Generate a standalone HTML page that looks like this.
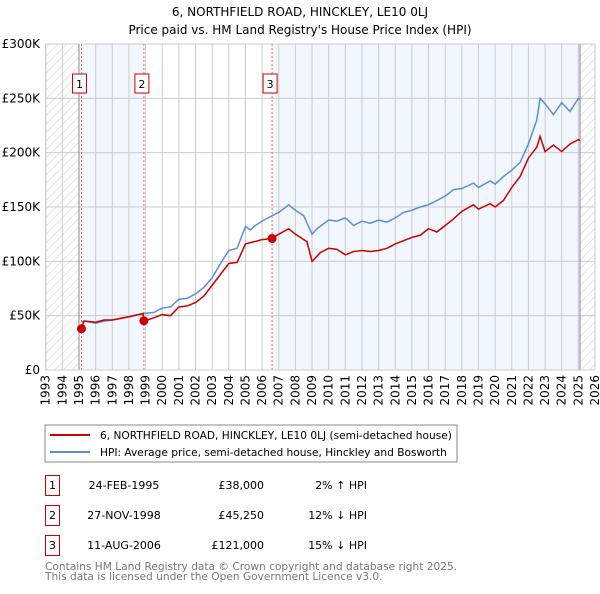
<!DOCTYPE html>
<html><head><meta charset="utf-8"><style>
body{margin:0;background:#fff;font-family:"DejaVu Sans","Liberation Sans",sans-serif;}
svg text{font-family:"DejaVu Sans","Liberation Sans",sans-serif;}
</style></head><body>
<svg id="c" width="600" height="590" xmlns="http://www.w3.org/2000/svg">
<defs><pattern id="hatch" width="6" height="6" patternUnits="userSpaceOnUse" patternTransform="rotate(45)"><line x1="0" y1="0" x2="0" y2="6" stroke="#ccc" stroke-width="1"/></pattern></defs>
<text x="300" y="16" text-anchor="middle" font-size="12">6, NORTHFIELD ROAD, HINCKLEY, LE10 0LJ</text>
<text x="300" y="34" text-anchor="middle" font-size="12">Price paid vs. HM Land Registry's House Price Index (HPI)</text>
<g id="plot"></g>
<rect x="45" y="425" width="412" height="37" fill="#fff" stroke="#888"/>
<line x1="50" y1="435" x2="90" y2="435" stroke="#cc0000" stroke-width="2"/>
<text x="100" y="439" font-size="10.6">6, NORTHFIELD ROAD, HINCKLEY, LE10 0LJ (semi-detached house)</text>
<line x1="50" y1="452" x2="90" y2="452" stroke="#5b8fd4" stroke-width="2"/>
<text x="100" y="456" font-size="10.6">HPI: Average price, semi-detached house, Hinckley and Bosworth</text>
<g id="table" font-size="11"></g>
<text x="45" y="570" font-size="10.6" fill="#777">Contains HM Land Registry data © Crown copyright and database right 2025.</text>
<text x="45" y="580" font-size="10.6" fill="#777">This data is licensed under the Open Government Licence v3.0.</text>
</svg>
<script>
const hpiT=[1995.15,1995.4,1996,1996.5,1997,1998,1998.9,1999.5,2000,2000.5,2001,2001.5,2002,2002.5,2003,2003.5,2004,2004.5,2005,2005.3,2005.6,2006,2006.6,2007,2007.6,2008,2008.5,2009.0,2009.3,2010,2010.5,2011,2011.5,2012,2012.5,2013,2013.5,2014,2014.5,2015,2015.5,2016,2016.5,2017,2017.5,2018,2018.7,2019,2019.7,2020,2020.5,2021,2021.5,2022,2022.5,2022.7,2023,2023.5,2024,2024.5,2025,2025.1];
const hpiV=[44,45,43,45,46,49,52,53,57,58,65,66,70,76,85,98,110,112,132,129,133,137,142,145,152,147,142,125,130,138,137,140,133,137,135,138,136,140,145,147,150,152,156,160,166,167,172,168,174,171,178,184,191,208,230,250,245,235,246,238,250,249];
const priceT=[1995.15,1995.3,1996,1996.5,1997,1998,1998.85,1998.9,1999.5,2000,2000.5,2001,2001.5,2002,2002.5,2003,2003.5,2004,2004.5,2005,2005.5,2006,2006.6,2007,2007.6,2008,2008.7,2009.0,2009.5,2010,2010.5,2011,2011.5,2012,2012.5,2013,2013.5,2014,2014.5,2015,2015.5,2016,2016.5,2017,2017.5,2018,2018.7,2019,2019.7,2020,2020.5,2021,2021.5,2022,2022.5,2022.7,2023,2023.5,2024,2024.5,2025,2025.1];
const priceV=[38,45,44,46,46,49,52,45,48,51,50,58,59,62,68,78,88,98,99,116,118,120,121,125,130,125,118,100,108,112,111,106,109,110,109,110,112,116,119,122,124,130,127,133,139,146,152,148,153,150,156,168,178,195,205,215,201,207,201,208,212,211];
const saleT=[1995.15,1998.9,2006.6];
const saleV=[38,45.25,121];
const saleLabels=["1","2","3"];
const saleDates=["24-FEB-1995","27-NOV-1998","11-AUG-2006"];
const salePrices=["£38,000","£45,250","£121,000"];
const saleHpi=["2% ↑ HPI","12% ↓ HPI","15% ↓ HPI"];
const yTicks=[0,50,100,150,200,250,300];
const yTickLabels=["£0","£50K","£100K","£150K","£200K","£250K","£300K"];
const xTicks=[];for(let y=1993;y<=2026;y++)xTicks.push(y);

const X0=45.7,X1=595,Y0=370,Y1=44;
const x=t=>X0+(t-1993)/(2026-1993)*(X1-X0);
const y=v=>Y0-v/300*(Y0-Y1);
const NS="http://www.w3.org/2000/svg";
const plot=document.getElementById('plot');
function mk(tag,attrs,parent){const e=document.createElementNS(NS,tag);for(const k in attrs)e.setAttribute(k,attrs[k]);(parent||plot).appendChild(e);return e;}

let e;
e=mk('rect',{x:x(1995.15),y:Y1,width:x(1998.9)-x(1995.15),height:Y0-Y1,fill:'#f2f6fd'});


e=mk('rect',{x:x(2006.6),y:Y1,width:x(2025.1)-x(2006.6),height:Y0-Y1,fill:'#f2f6fd'});


e=mk('rect',{x:X0,y:Y1,width:x(1995)-X0,height:Y0-Y1,fill:'url(#hatch)'});


e=mk('rect',{x:x(2025.1),y:Y1,width:X1-x(2025.1),height:Y0-Y1,fill:'url(#hatch)'});



yTicks.forEach((v,i)=>{
 e=mk('line',{x1:X0,x2:X1,y1:y(v),y2:y(v),stroke:'#ccc'});
 
 
 e=mk('text',{x:40,y:y(v)+4,'text-anchor':'end','font-size':12});
 e.textContent=yTickLabels[i];
 
 
});
xTicks.forEach(t=>{
 e=mk('line',{x1:x(t),x2:x(t),y1:Y1,y2:Y0,stroke:'#ccc'});
 
 
 e=mk('text',{x:0,y:0,'text-anchor':'end','font-size':12,transform:`translate(${x(t)+4},${Y0+5}) rotate(-90)`});
 e.textContent=t;
 
 
});
e=mk('line',{x1:x(1995),x2:x(1995),y1:Y1,y2:Y0,stroke:'#888'});


e=mk('line',{x1:x(2025.1),x2:x(2025.1),y1:Y1,y2:Y0,stroke:'#888'});



saleT.forEach((t,i)=>{
 e=mk('line',{x1:x(t),x2:x(t),y1:Y1,y2:Y0,stroke:'#e66','stroke-dasharray':'2,2'});
 
 
});
e=mk('polyline',{points:hpiT.map((t,i)=>x(t)+','+y(hpiV[i])).join(' '),fill:'none',stroke:'#5b8fd4','stroke-width':1.5});


e=mk('polyline',{points:priceT.map((t,i)=>x(t)+','+y(priceV[i])).join(' '),fill:'none',stroke:'#cc0000','stroke-width':1.5});


saleT.forEach((t,i)=>{
 e=mk('circle',{cx:x(t),cy:y(saleV[i]),r:4.5,fill:'#cc0000'});
 
 
 e=mk('rect',{x:x(t)-9,y:74,width:14,height:19,fill:'#fff',stroke:'#cc0000'});
 
 
 e=mk('text',{x:x(t)-2,y:88,'text-anchor':'middle','font-size':11});
 e.textContent=saleLabels[i];
 
 
});
e=mk('rect',{x:X0,y:Y1,width:X1-X0,height:Y0-Y1,fill:'none',stroke:'#ccc'});



const tb=document.getElementById('table');
saleT.forEach((t,i)=>{
 const ry=475+i*30;
 e=mk('rect',{x:45.5,y:ry+0.5,width:14,height:20,fill:'#fff',stroke:'#cc0000'},tb);
 
 
 e=mk('text',{x:52.5,y:ry+14,'text-anchor':'middle'},tb);e.textContent=saleLabels[i];
 
 
 e=mk('text',{x:124,y:ry+14,'text-anchor':'middle'},tb);e.textContent=saleDates[i];
 
 
 e=mk('text',{x:264,y:ry+14,'text-anchor':'end'},tb);e.textContent=salePrices[i];
 
 
 e=mk('text',{x:367,y:ry+14,'text-anchor':'end'},tb);e.textContent=saleHpi[i];
 
 
});
</script>
</body></html>
